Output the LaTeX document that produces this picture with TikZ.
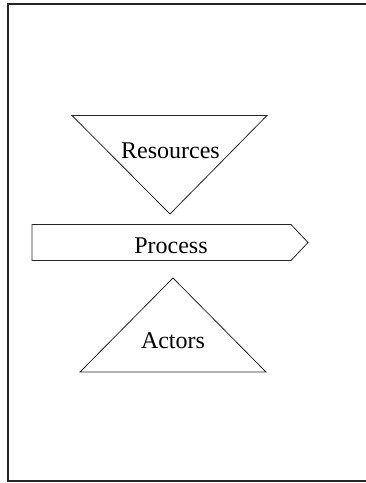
\documentclass[tikz,border=0pt]{standalone}
\usepackage{fontspec}
\setmainfont{Liberation Serif}
\usepackage{tikz}
\usetikzlibrary{positioning}

\tikzset{
  part/.style={draw=black!85, line width=0.8pt, line join=miter},
  frame/.style={draw=black!85, line width=2pt},
  label/.style={anchor=base, inner sep=0pt, font=\fontsize{24}{24}\selectfont}
}

\begin{document}
\begin{tikzpicture}[x=1pt,y=-1pt]
  \useasboundingbox (0,0) rectangle (365,483);
  \draw[frame] (372,3.5) -- (8,3.5) -- (8,480.5) -- (372,480.5);

  % resources, pointing down
  \coordinate (resL) at (72,115.5);
  \coordinate (resR) at (267,115.5);
  \coordinate (resTip) at (170,214);
  \draw[part] (resL) -- (resR) -- (resTip) -- cycle;
  \node[label] (res) at (170.5,158) {Resources};

  % process arrow
  \coordinate (proNW) at (32,224.5);
  \coordinate (proNE) at (291,224.5);
  \coordinate (proTip) at (308,242.5);
  \coordinate (proSE) at (291,260.5);
  \coordinate (proSW) at (32,260.5);
  \draw[part] (proNW) -- (proNE) -- (proTip) -- (proSE) -- (proSW) -- cycle;
  \node[label] (pro) at (171,253) {Process};

  % actors, pointing up
  \coordinate (actTip) at (173,278);
  \coordinate (actL) at (80,372);
  \coordinate (actR) at (266,372);
  \draw[part] (actL) -- (actTip) -- (actR) -- cycle;
  \node[label] (act) at (173,348) {Actors};
\end{tikzpicture}
\end{document}
